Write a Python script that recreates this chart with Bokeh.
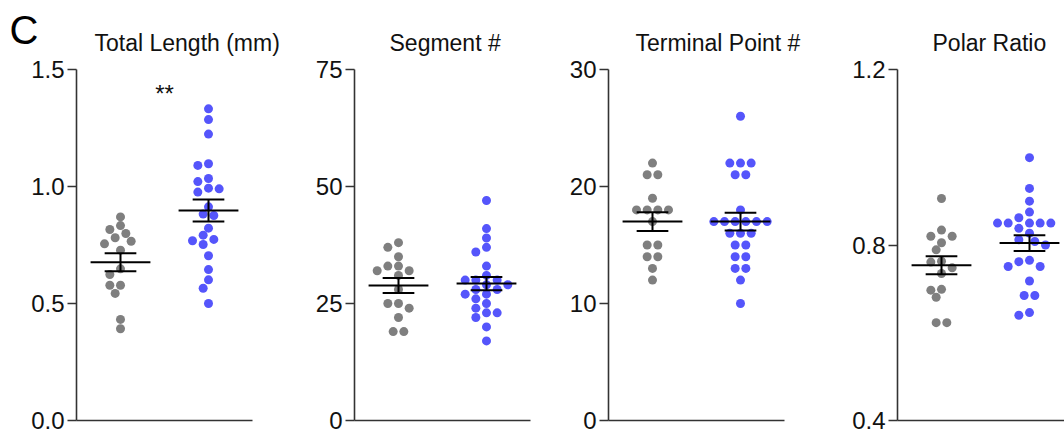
import numpy as np
from bokeh.plotting import figure
from bokeh.layouts import row
from bokeh.models import (FixedTicker, Label, Range1d, PrintfTickFormatter,
                          LinearAxis)
from bokeh.embed import file_html
from bokeh.resources import INLINE

# ---------------- data ----------------
groups = ["Control", "Mutant"]
titles = ["Total Length (mm)", "Segment #", "Terminal Point #", "Polar Ratio"]

tl_ctrl = [0.870, 0.833, 0.816, 0.799, 0.781, 0.766, 0.755, 0.728, 0.648, 0.624,
           0.578, 0.578, 0.543, 0.432, 0.392]
tl_mut = [1.332, 1.286, 1.224, 1.097, 1.090, 1.034, 1.021, 0.993, 0.990, 0.976,
          0.913, 0.882, 0.876, 0.822, 0.792, 0.774, 0.768, 0.752, 0.704, 0.645,
          0.601, 0.565, 0.500]

seg_ctrl = [38, 37, 35, 33, 33, 32, 32, 31, 28, 25, 25, 24, 22, 19, 19]
seg_mut = [47, 41, 39, 37, 36, 33, 31, 30, 30, 30, 29, 29, 28, 28, 27, 27, 26, 25,
           24, 23, 23, 22, 20, 17]

tp_ctrl = [22, 21, 21, 19, 18, 18, 18, 18, 17, 15, 15, 14, 14, 13, 12]
tp_mut = [26, 22, 22, 22, 21, 21, 18, 17, 17, 17, 17, 17, 17, 16, 16, 16, 15, 15,
          14, 14, 13, 13, 12, 10]

pr_ctrl = [0.906, 0.834, 0.820, 0.820, 0.805, 0.789, 0.763, 0.761, 0.748, 0.735,
           0.699, 0.697, 0.681, 0.623, 0.623]
pr_mut = [0.999, 0.929, 0.900, 0.875, 0.862, 0.850, 0.850, 0.850, 0.850, 0.850,
          0.838, 0.827, 0.812, 0.808, 0.800, 0.765, 0.762, 0.751, 0.751, 0.718,
          0.685, 0.685, 0.646, 0.640]

y_ticks = [[0.0, 0.5, 1.0, 1.5], [0, 25, 50, 75], [0, 10, 20, 30], [0.4, 0.8, 1.2]]
significance = ["**", "", "", ""]
panel_letter = "C"

# ---------------- style / layout ----------------
FONT = "Liberation Sans"
C_CTRL = "#7f7f7f"
C_MUT = "#5555fb"
AX = "#333333"
BT, FH, BB = 69, 351, 14

panels = [
    dict(ctrl=tl_ctrl, mut=tl_mut, fmt="%.1f", bl=76, br=48, fw=176, toff=18),
    dict(ctrl=seg_ctrl, mut=seg_mut, fmt="%d", bl=54, br=26, fw=176, toff=35),
    dict(ctrl=tp_ctrl, mut=tp_mut, fmt="%d", bl=52, br=46, fw=176, toff=27),
    dict(ctrl=pr_ctrl, mut=pr_mut, fmt="%.1f", bl=67, br=0, fw=167, toff=35),
]

PX_PER_X = 88.0  # pixels per category unit (176 px for range 0.5..2.5)


def swarm(vals, px_per_y, step=5.33, dmin=8.6):
    vals = np.asarray(vals, dtype=float)
    ys = vals * px_per_y
    order = np.argsort(-vals, kind="stable")
    offs = np.zeros(len(vals))
    placed = []
    cands = [0.0]
    for k in range(1, 60):
        cands += [-k * step, k * step]
    for i in order:
        for c in cands:
            ok = True
            for j in placed:
                if (c - offs[j]) ** 2 + (ys[i] - ys[j]) ** 2 < dmin ** 2:
                    ok = False
                    break
            if ok:
                break
        offs[i] = c
        placed.append(i)
    # centre rows of exactly tied values when that causes no overlap
    for v in np.unique(vals):
        idx = np.where(vals == v)[0]
        if len(idx) < 2:
            continue
        shift = offs[idx].mean()
        new = offs.copy()
        new[idx] -= shift
        others = np.setdiff1d(np.arange(len(vals)), idx)
        good = True
        for a in idx:
            for b in others:
                if (new[a] - new[b]) ** 2 + (ys[a] - ys[b]) ** 2 < dmin ** 2:
                    good = False
        if good:
            offs = new
    return offs / PX_PER_X


figs = []
for k, cfg in enumerate(panels):
    ylo, yhi = y_ticks[k][0], y_ticks[k][-1]
    xhi = 0.5 + cfg["fw"] / PX_PER_X
    p = figure(frame_width=cfg["fw"], frame_height=FH,
               min_border_left=cfg["bl"], min_border_right=cfg["br"],
               min_border_top=BT, min_border_bottom=BB,
               x_range=Range1d(0.5, xhi), y_range=Range1d(ylo, yhi),
               toolbar_location=None, output_backend="svg", outline_line_color=None)
    p.grid.visible = False
    p.background_fill_color = "white"
    p.border_fill_color = "white"

    p.title.text = titles[k]
    p.title.align = "left"
    p.title.offset = cfg["toff"]
    p.title.standoff = 27
    p.title.text_font = FONT
    p.title.text_font_size = "23px"
    p.title.text_font_style = "normal"
    p.title.text_color = "#111111"

    # y axis
    ya = p.yaxis[0]
    ya.ticker = FixedTicker(ticks=y_ticks[k])
    ya.formatter = PrintfTickFormatter(format=cfg["fmt"])
    ya.major_label_text_font = FONT
    ya.major_label_text_font_size = "24px"
    ya.major_label_text_color = "#111111"
    ya.major_label_standoff = 3
    ya.major_tick_out = 9
    ya.major_tick_in = 0
    ya.minor_tick_out = 0
    ya.minor_tick_in = 0
    ya.axis_line_color = AX
    ya.axis_line_width = 1.6
    ya.major_tick_line_color = AX
    ya.major_tick_line_width = 1.6

    # x axis: line only
    xa = p.xaxis[0]
    xa.ticker = FixedTicker(ticks=[])
    xa.major_tick_out = 0
    xa.major_tick_in = 0
    xa.minor_tick_out = 0
    xa.minor_tick_in = 0
    xa.major_label_text_font_size = "0px"
    xa.axis_line_color = AX
    xa.axis_line_width = 1.6

    px_per_y = FH / (yhi - ylo)

    for gi, (vals, col) in enumerate([(cfg["ctrl"], C_CTRL), (cfg["mut"], C_MUT)]):
        xc = gi + 1
        v = np.asarray(vals, dtype=float)
        xs = xc + swarm(v, px_per_y)
        p.scatter(xs, v, size=9, fill_color=col, line_color=None)
        m = v.mean()
        sem = v.std(ddof=1) / np.sqrt(len(v))
        p.segment(x0=[xc - 0.34, xc - 0.18, xc - 0.18, xc],
                  y0=[m, m + sem, m - sem, m - sem],
                  x1=[xc + 0.34, xc + 0.18, xc + 0.18, xc],
                  y1=[m, m + sem, m - sem, m + sem],
                  line_color="black", line_width=2)

    if significance[k]:
        p.add_layout(Label(x=1.5, y=yhi - 24 / px_per_y, text=significance[k],
                           text_align="center", text_baseline="middle",
                           text_font=FONT, text_font_size="24px",
                           text_color="#111111"))
    if k == 0:
        # panel letter: the (three-line) tick label of an outer left axis,
        # anchored at the top tick so that its first line sits above the frame
        la = LinearAxis(ticker=FixedTicker(ticks=[yhi]),
                        formatter=PrintfTickFormatter(
                            format=panel_letter + "\n\u00a0\n\u00a0"),
                        major_label_text_font=FONT,
                        major_label_text_font_size="40px",
                        major_label_text_line_height=0.9,
                        major_label_text_color="black",
                        major_label_standoff=-10,
                        major_tick_out=0, major_tick_in=0,
                        minor_tick_out=0, minor_tick_in=0,
                        axis_line_color=None, major_tick_line_color=None)
        p.add_layout(la, "left")
    figs.append(p)

layout = row(*figs, spacing=0)
open("out.html", "w").write(file_html(layout, INLINE))
